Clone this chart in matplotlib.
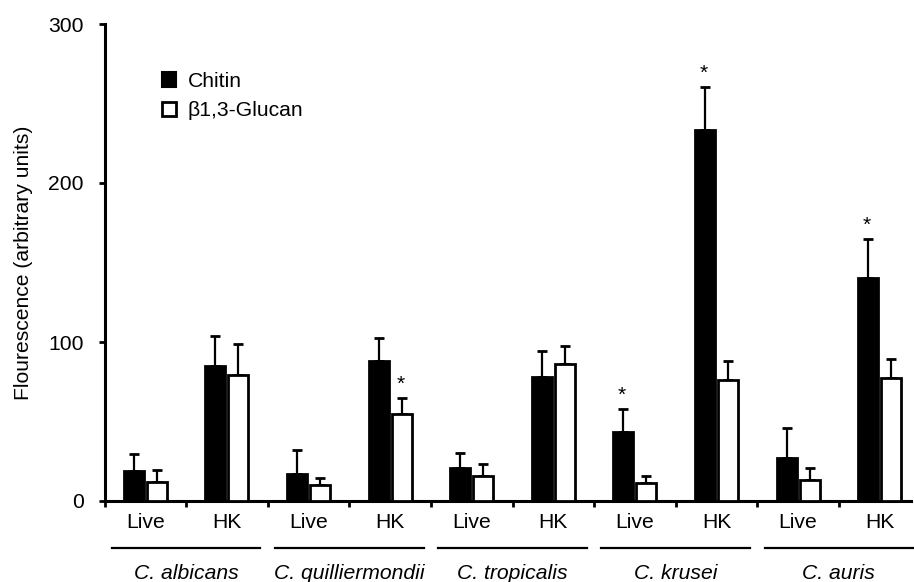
import numpy as np
import matplotlib
matplotlib.use('Agg')
import matplotlib.pyplot as plt
from matplotlib.patches import Patch
import matplotlib.transforms as mtrans

plt.rcParams['font.family'] = ['Liberation Sans', 'DejaVu Sans']

species = ['C. albicans', 'C. quilliermondii', 'C. tropicalis', 'C. krusei', 'C. auris']
states = ['Live', 'HK']

chitin = [19, 85, 17, 88, 20.6, 77.8, 43.5, 233.3, 26.8, 140]
chitin_err = [10.6, 19, 15, 14.5, 9.6, 16.7, 14.3, 27.3, 18.9, 24.8]
glucan = [12, 79, 9.9, 54.5, 15.7, 86.2, 11.2, 76.1, 13.3, 77.6]
glucan_err = [7.7, 19.7, 4.5, 10.1, 7.6, 11.5, 4.4, 12.1, 7.4, 11.5]

# (category index, series) that get a significance star
stars = [(3, 'glucan'), (6, 'chitin'), (7, 'chitin'), (9, 'chitin')]

fs = 15.2
fig = plt.figure(figsize=(9.14, 5.82), dpi=100)
ax = fig.add_axes([104.5 / 914, 81 / 582, 806.5 / 914, 477 / 582])

x = np.arange(len(chitin))
w = 0.245
off = 0.142

ax.bar(x - off, chitin, w, color='black', edgecolor='black', linewidth=2, zorder=3)
ax.bar(x + off, glucan, w, color='white', edgecolor='black', linewidth=2, zorder=3)
ax.errorbar(x - off, chitin, yerr=[np.zeros(len(x)), chitin_err], fmt='none',
            ecolor='black', elinewidth=1.6, capsize=3.5, capthick=2, zorder=2)
ax.errorbar(x + off, glucan, yerr=[np.zeros(len(x)), glucan_err], fmt='none',
            ecolor='black', elinewidth=1.6, capsize=3.5, capthick=2, zorder=2)

for i, s in stars:
    if s == 'chitin':
        xs, top = x[i] - off, chitin[i] + chitin_err[i]
    else:
        xs, top = x[i] + off, glucan[i] + glucan_err[i]
    ax.annotate('*', (xs, top), xytext=(-1, 3), textcoords='offset points',
                ha='center', va='bottom', fontsize=fs)

ax.set_xlim(-0.5, -0.5 + 806.5 / 81.6)
ax.set_ylim(0, 300)
ax.set_yticks([0, 100, 200, 300])
ax.set_xticks(np.arange(len(x)) - 0.5)
ax.set_xticklabels([])
ax.set_xticks(x, minor=True)
ax.set_xticklabels(states * len(species), minor=True)

for sp in ['top', 'right']:
    ax.spines[sp].set_visible(False)
for sp in ['left', 'bottom']:
    ax.spines[sp].set_linewidth(2.2)

ax.tick_params(axis='y', which='major', direction='out', length=4, width=2,
               labelsize=fs, pad=11)
ax.tick_params(axis='x', which='major', direction='out', length=4, width=2)
ax.tick_params(axis='x', which='minor', length=0, labelsize=fs, pad=8.5)

ax.set_ylabel('Flourescence (arbitrary units)', fontsize=fs)
ax.yaxis.set_label_coords(-0.089, 0.5)

trans = mtrans.blended_transform_factory(ax.transData, ax.transAxes)
for k, name in enumerate(species):
    c = 2 * k + 0.5
    ax.plot([c - 0.91, c + 0.91], [-0.0985, -0.0985], color='black', lw=1.6,
            transform=trans, clip_on=False)
    ax.text(c, -0.164, name, transform=trans, ha='center', va='baseline',
            fontsize=fs, style='italic')

handles = [Patch(facecolor='black', edgecolor='black', linewidth=1.5),
           Patch(facecolor='white', edgecolor='black', linewidth=2)]
ax.legend(handles, ['Chitin', '\u03b21,3-Glucan'], loc='upper left',
          bbox_to_anchor=(0.0707, 0.9), frameon=False, fontsize=fs,
          handlelength=0.68, handleheight=0.68, handletextpad=0.55,
          labelspacing=0.5, borderpad=0, borderaxespad=0)

fig.savefig('out.png', dpi=100)
